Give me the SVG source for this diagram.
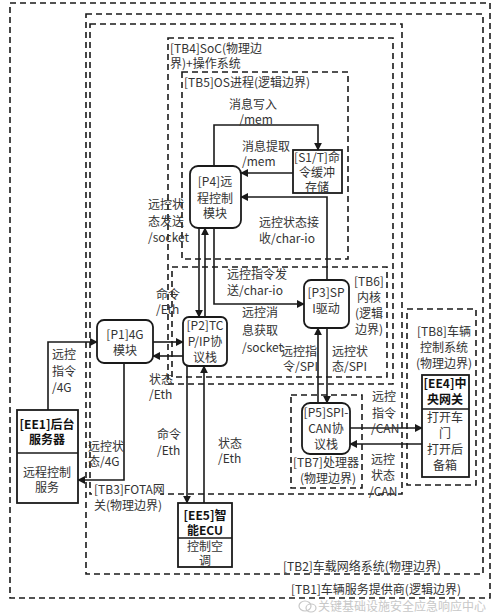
<svg xmlns="http://www.w3.org/2000/svg" width="500" height="616" viewBox="0 0 500 616">
<style>
.b{fill:none;stroke:#1a1a1a;stroke-width:1.6;stroke-dasharray:6 4}
.n{fill:#fff;stroke:#1a1a1a;stroke-width:1.8}
.c{fill:none;stroke:#1a1a1a;stroke-width:1.6}
text{font-family:"Noto Sans CJK SC","Noto Sans",sans-serif;font-size:12px;fill:#333}
.m{text-anchor:middle}
.t{font-weight:bold;fill:#111}
.w{fill:#c8c8c8}
</style>
<defs>
<marker id="a" viewBox="0 0 10 10" refX="9" refY="5" markerWidth="8" markerHeight="8" markerUnits="userSpaceOnUse" orient="auto">
<path d="M0,0 L10,5 L0,10 z" fill="#1a1a1a"/>
</marker>
</defs>
<rect width="500" height="616" fill="#fff"/>
<g id="boundaries">
<g id="TB1"><rect class="b" x="10" y="3" width="480" height="595"/><text x="291" y="594">[TB1]车辆服务提供商(逻辑边界)</text></g>
<g id="TB2"><rect class="b" x="86" y="14" width="397" height="560"/><text x="283" y="571">[TB2]车载网络系统(物理边界)</text></g>
<g id="TB3"><rect class="b" x="90" y="24" width="312" height="470"/><rect x="92" y="483" width="68" height="14" fill="#fff"/><text x="94" y="494">[TB3]FOTA网</text><text x="94" y="510">关(物理边界)</text></g>
<g id="TB4"><rect class="b" x="168" y="38" width="225" height="346"/><text x="170" y="53">[TB4]SoC(物理边</text><text x="170" y="68">界)+操作系统</text></g>
<g id="TB5"><rect class="b" x="182" y="72" width="166" height="187"/><text x="184" y="87">[TB5]OS进程(逻辑边界)</text></g>
<g id="TB6"><rect class="b" x="172" y="267" width="215" height="110"/><text class="m" x="369" y="286">[TB6]<tspan x="369" dy="16">内核</tspan><tspan x="369" dy="16">(逻辑</tspan><tspan x="369" dy="16">边界)</tspan></text></g>
<g id="TB7"><rect class="b" x="291" y="395" width="71" height="93"/><text class="m" x="326" y="467">[TB7]处理器<tspan x="328" dy="16">(物理边界)</tspan></text></g>
<g id="TB8"><rect class="b" x="407" y="309" width="69" height="176"/><text class="m" x="444" y="336">[TB8]车辆<tspan x="444" dy="16">控制系统</tspan><tspan x="444" dy="16">(物理边界)</tspan></text></g>
</g>
<g id="connectors">
<path class="c" d="M48,410 V342 H97" marker-end="url(#a)"/>
<path class="c" d="M124,363 V480 H78" marker-end="url(#a)"/>
<path class="c" d="M153,342 H183" marker-end="url(#a)"/>
<path class="c" d="M183,356 H153" marker-end="url(#a)"/>
<path class="c" d="M199,228 V317" marker-end="url(#a)"/>
<path class="c" d="M205,317 V228" marker-end="url(#a)"/>
<path class="c" d="M214,228 V304 H304" marker-end="url(#a)"/>
<path class="c" d="M214,166 V125 H318 V150" marker-end="url(#a)"/>
<path class="c" d="M293,173 H241" marker-end="url(#a)"/>
<path class="c" d="M327,280 V197 H241" marker-end="url(#a)"/>
<path class="c" d="M318,403 V328" marker-end="url(#a)"/>
<path class="c" d="M327,328 V403" marker-end="url(#a)"/>
<path class="c" d="M350,428 H422" marker-end="url(#a)"/>
<path class="c" d="M422,444 H350" marker-end="url(#a)"/>
<path class="c" d="M187,366 V503" marker-end="url(#a)"/>
<path class="c" d="M204,503 V366" marker-end="url(#a)"/>
</g>
<g id="labels">
<text x="52" y="359">远控<tspan x="52" dy="17">指令</tspan><tspan x="52" dy="16">/4G</tspan></text>
<text x="88" y="451">远控状<tspan x="88" dy="15">态/4G</tspan></text>
<text x="156" y="299">命令<tspan x="156" dy="15">/Eth</tspan></text>
<text x="149" y="384">状态<tspan x="149" dy="15">/Eth</tspan></text>
<text x="148" y="209">远控状<tspan x="148" dy="17">态发送</tspan><tspan x="148" dy="16">/socket</tspan></text>
<text x="242" y="317">远控消<tspan x="242" dy="18">息获取</tspan><tspan x="242" dy="17">/socket</tspan></text>
<text x="227" y="279">远控指令发<tspan x="227" dy="16">送/char-io</tspan></text>
<text class="m" x="253" y="109">消息写入<tspan x="256" dy="15">/mem</tspan></text>
<text x="242" y="151">消息提取<tspan x="242" dy="15">/mem</tspan></text>
<text x="259" y="227">远控状态接<tspan x="259" dy="16">收/char-io</tspan></text>
<text x="281" y="356">远控指<tspan x="283" dy="15">令/SPI</tspan></text>
<text x="332" y="356">远控状<tspan x="332" dy="15">态/SPI</tspan></text>
<text x="372" y="401">远控<tspan x="372" dy="17">指令</tspan><tspan x="371" dy="15">/CAN</tspan></text>
<text x="371" y="464">远控<tspan x="371" dy="16">状态</tspan><tspan x="369" dy="16">/CAN</tspan></text>
<text x="157" y="439">命令<tspan x="157" dy="16">/Eth</tspan></text>
<text x="218" y="448">状态<tspan x="218" dy="15">/Eth</tspan></text>
</g>
<g id="P1"><rect class="n" x="97" y="320" width="56" height="43" rx="7"/><text class="m" x="125" y="339">[P1]4G<tspan x="125" dy="16">模块</tspan></text></g>
<g id="P2"><rect class="n" x="183" y="317" width="44" height="49" rx="6"/><text class="m" x="205" y="330">[P2]TC<tspan x="205" dy="16">P/IP协</tspan><tspan x="205" dy="16">议栈</tspan></text></g>
<g id="P3"><rect class="n" x="304" y="280" width="45" height="48" rx="7"/><text class="m" x="326" y="297">[P3]SP<tspan x="326" dy="16">I驱动</tspan></text></g>
<g id="P4"><rect class="n" x="190" y="166" width="51" height="62" rx="8"/><text class="m" x="215" y="186">[P4]远<tspan x="215" dy="17">程控制</tspan><tspan x="215" dy="15">模块</tspan></text></g>
<g id="S1"><rect class="n" x="293" y="150" width="49" height="43"/><text class="m" x="317" y="162">[S1/T]命<tspan x="317" dy="15">令缓冲</tspan><tspan x="317" dy="15">存储</tspan></text></g>
<g id="P5"><rect class="n" x="302" y="403" width="48" height="51" rx="8"/><text class="m" x="326" y="417">[P5]SPI-<tspan x="326" dy="16">CAN协</tspan><tspan x="326" dy="16">议栈</tspan></text></g>
<g id="EE1"><rect class="n" x="17" y="410" width="61" height="93"/><line class="c" x1="17" y1="453" x2="78" y2="453"/><text class="m t" x="47" y="429">[EE1]后台<tspan x="47" dy="15">服务器</tspan></text><text class="m" x="47" y="477">远程控制<tspan x="47" dy="15">服务</tspan></text></g>
<g id="EE5"><rect class="n" x="178" y="503" width="54" height="64"/><line class="c" x1="178" y1="538" x2="232" y2="538"/><text class="m t" x="205" y="520">[EE5]智<tspan x="205" dy="15">能ECU</tspan></text><text class="m" x="205" y="551">控制空<tspan x="205" dy="14">调</tspan></text></g>
<g id="EE4"><rect class="n" x="422" y="375" width="47" height="102"/><line class="c" x1="422" y1="409" x2="469" y2="409"/><text class="m t" x="445" y="388">[EE4]中<tspan x="445" dy="16">央网关</tspan></text><text class="m" x="445" y="422">打开车<tspan x="445" dy="16">门</tspan><tspan x="445" dy="16">打开后</tspan><tspan x="445" dy="16">备箱</tspan></text></g>
<g id="watermark"><ellipse cx="305" cy="606" rx="6" ry="5" fill="none" stroke="#c8c8c8" stroke-width="1.2"/><ellipse cx="311" cy="608" rx="5" ry="4" fill="none" stroke="#c8c8c8" stroke-width="1.2"/><text class="w" x="318" y="611">关键基础设施安全应急响应中心</text></g>
</svg>
